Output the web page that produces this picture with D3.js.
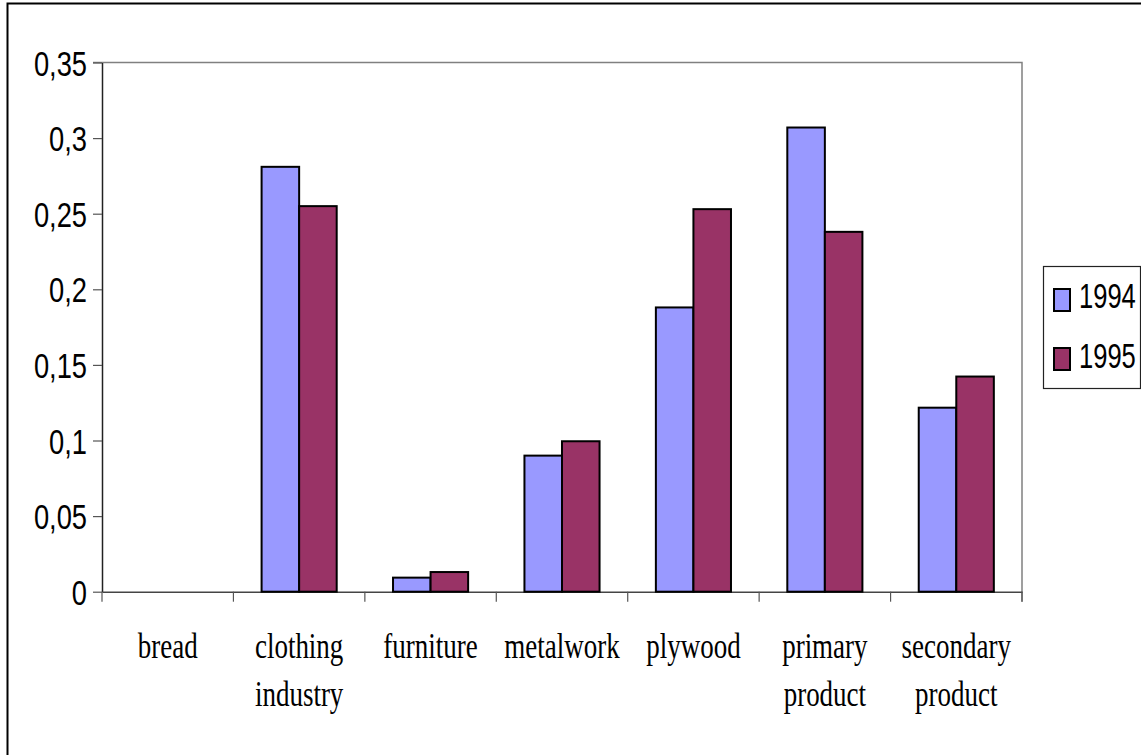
<!DOCTYPE html>
<html>
<head>
<meta charset="utf-8">
<script src="https://cdn.jsdelivr.net/npm/d3@7"></script>
<style>
  body { margin: 0; background: #fff; }
  svg { display: block; }
</style>
</head>
<body>
<div id="chart"></div>
<script>
// Data
const categories = ["bread", "clothing industry", "furniture", "metalwork", "plywood", "primary product", "secondary product"];
const labelLines = [["bread"], ["clothing", "industry"], ["furniture"], ["metalwork"], ["plywood"], ["primary", "product"], ["secondary", "product"]];
const years = ["1994", "1995"];
const values1994 = [0, 0.281, 0.0093, 0.09, 0.188, 0.307, 0.1217];
const values1995 = [0, 0.255, 0.013, 0.0995, 0.253, 0.238, 0.1423];
const yTicks = [0, 0.05, 0.1, 0.15, 0.2, 0.25, 0.3, 0.35];
const colors = ["#9999FF", "#993366"];

const W = 1141, H = 755;
const plot = {left: 102, right: 1022, top: 62.5, bottom: 591.7};

const svg = d3.select("#chart")
    .append("svg")
    .attr("width", W)
    .attr("height", H);

// outer chart border (runs off the right and bottom edges)
svg.append("rect")
    .attr("x", 7.5).attr("y", 3.5)
    .attr("width", W + 20).attr("height", H + 20)
    .attr("fill", "white")
    .attr("stroke", "black")
    .attr("stroke-width", 2);

// scales
const x0 = d3.scaleBand()
    .domain(categories)
    .range([plot.left, plot.right])
    .paddingInner(0).paddingOuter(0);

const x1 = d3.scaleBand()
    .domain(years)
    .range([0, x0.bandwidth()])
    .paddingInner(0)
    .paddingOuter(0.75);

const y = d3.scaleLinear()
    .domain([0, 0.35])
    .range([plot.bottom, plot.top]);

// plot area border: gray top and right
svg.append("path")
    .attr("d", `M${plot.left - 9},${plot.top}H${plot.right}V${plot.bottom + 10}`)
    .attr("fill", "none")
    .attr("stroke", "#808080")
    .attr("stroke-width", 1.5);

// y axis
const yAxis = svg.append("g")
    .attr("transform", `translate(${plot.left},0)`)
    .call(d3.axisLeft(y)
        .tickValues(yTicks)
        .tickSize(9)
        .tickSizeOuter(0)
        .tickFormat(d => String(+d.toFixed(2)).replace(".", ",")));
yAxis.select(".domain").attr("stroke", "#222").attr("stroke-width", 1.5);
yAxis.selectAll(".tick line").attr("stroke", "#555").attr("stroke-width", 1.2);
yAxis.selectAll(".tick text")
    .attr("x", -15 / 0.78)
    .attr("dy", "0.36em")
    .attr("transform", "scale(0.78,1)")
    .attr("fill", "black")
    .style("font-family", "'Liberation Sans', Arial, sans-serif")
    .style("font-size", "35px");

// x axis line and tick marks at category boundaries
const xAxis = svg.append("g")
    .attr("transform", `translate(0,${plot.bottom})`)
    .call(d3.axisBottom(x0).tickSize(0).tickFormat(""));
xAxis.select(".domain").attr("stroke", "#444").attr("stroke-width", 1.5);
xAxis.selectAll(".tick").remove();

const bounds = categories.map(c => x0(c)).concat([x0(categories[categories.length - 1]) + x0.step()]);
svg.append("g").selectAll("line")
    .data(bounds)
    .enter()
    .append("line")
    .attr("x1", d => d).attr("x2", d => d)
    .attr("y1", plot.bottom).attr("y2", plot.bottom + 10)
    .attr("stroke", "#555")
    .attr("stroke-width", 1.2);

// bars
const series = [values1994, values1995];
categories.forEach((cat, i) => {
    years.forEach((yr, j) => {
        const v = series[j][i];
        if (v <= 0) return;
        svg.append("rect")
            .attr("x", x0(cat) + x1(yr))
            .attr("y", y(v))
            .attr("width", x1.bandwidth())
            .attr("height", y(0) - y(v))
            .attr("fill", colors[j])
            .attr("stroke", "black")
            .attr("stroke-width", 2);
    });
});

// category labels, condensed serif
const lbl = svg.append("g");
categories.forEach((cat, i) => {
    const cx = x0(cat) + x0.bandwidth() / 2;
    labelLines[i].forEach((line, k) => {
        lbl.append("text")
            .attr("transform", `translate(${cx},${658 + k * 48}) scale(0.75,1)`)
            .attr("text-anchor", "middle")
            .style("font-family", "'Liberation Serif', 'Times New Roman', serif")
            .style("font-size", "36px")
            .text(line);
    });
});

// legend
const legend = svg.append("g").attr("transform", "translate(1043,266)");
legend.append("rect")
    .attr("x", 0.5).attr("y", 0.5)
    .attr("width", 97).attr("height", 122)
    .attr("fill", "white")
    .attr("stroke", "#222")
    .attr("stroke-width", 1.2);
years.forEach((yr, i) => {
    legend.append("rect")
        .attr("x", 11).attr("y", 23 + i * 59)
        .attr("width", 16).attr("height", 22)
        .attr("fill", colors[i])
        .attr("stroke", "black")
        .attr("stroke-width", 2);
    legend.append("text")
        .attr("transform", `translate(36,${42 + i * 60}) scale(0.73,1)`)
        .style("font-family", "'Liberation Sans', Arial, sans-serif")
        .style("font-size", "35px")
        .text(yr);
});
</script>
</body>
</html>
